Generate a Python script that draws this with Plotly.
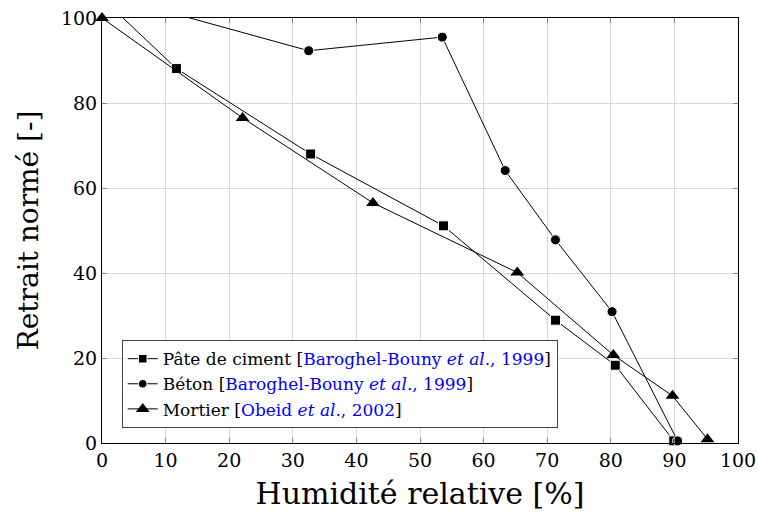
import plotly.graph_objects as go

# Pâte de ciment [Baroghel-Bouny et al., 1999]
pate_x = [0, 11.7, 32.8, 53.7, 71.3, 80.7, 89.9]
pate_y = [104.7, 88.1, 68.0, 51.1, 28.9, 18.3, 0.5]

# Béton [Baroghel-Bouny et al., 1999]
beton_x = [0, 32.5, 53.5, 63.4, 71.3, 80.2, 90.5]
beton_y = [105.7, 92.3, 95.5, 64.1, 47.8, 30.9, 0.5]

# Mortier [Obeid et al., 2002]
mortier_x = [0, 22.1, 42.6, 65.3, 80.4, 89.7, 95.2]
mortier_y = [100, 76.5, 56.5, 40.1, 20.7, 11.1, 0.9]

x_ticks = list(range(0, 101, 10))
y_ticks = list(range(0, 101, 20))

BLUE = '#0000ff'
SERIF = 'DejaVu Serif'


def cite(label, ref, year):
    return (f"{label} [<span style='color:{BLUE}'>{ref} <i>et al.</i>, {year}</span>]")


def sizes(ys, s):
    # hide markers that fall outside the plotted range
    return [s if y <= 100 else 0 for y in ys]


fig = go.Figure()
fig.add_trace(go.Scatter(
    x=pate_x, y=pate_y,
    name=cite('Pâte de ciment', 'Baroghel-Bouny', 1999),
    mode='lines+markers',
    line=dict(color='black', width=1),
    marker=dict(symbol='square', size=sizes(pate_y, 10), color='black', opacity=1),
    cliponaxis=False
))
fig.add_trace(go.Scatter(
    x=beton_x, y=beton_y,
    name=cite('Béton', 'Baroghel-Bouny', 1999),
    mode='lines+markers',
    line=dict(color='black', width=1),
    marker=dict(symbol='circle', size=sizes(beton_y, 10), color='black', opacity=1),
    cliponaxis=False
))
fig.add_trace(go.Scatter(
    x=mortier_x, y=mortier_y,
    name=cite('Mortier', 'Obeid', 2002),
    mode='lines+markers',
    line=dict(color='black', width=1),
    marker=dict(symbol='triangle-up', size=12, color='black', opacity=1),
    cliponaxis=False
))

axis_style = dict(
    showgrid=True,
    gridcolor='#d9d9d9',
    gridwidth=1,
    zeroline=False,
    showline=True,
    linecolor='black',
    linewidth=1,
    mirror='ticks',
    ticks='inside',
    ticklen=5,
    tickcolor='#888888',
    tickfont=dict(family=SERIF, size=19, color='black'),
    automargin=False,
)

fig.update_xaxes(
    range=[0, 100],
    tickvals=x_ticks,
    title=dict(text='Humidité relative [%]', font=dict(family=SERIF, size=30, color='black'), standoff=13),
    **axis_style
)
fig.update_yaxes(
    range=[0, 100],
    tickvals=y_ticks,
    title=dict(text='Retrait normé [-]', font=dict(family=SERIF, size=28, color='black'), standoff=14),
    **axis_style
)

fig.update_layout(
    width=758,
    height=514,
    margin=dict(l=102, r=20, t=18, b=71, autoexpand=False),
    plot_bgcolor='white',
    paper_bgcolor='white',
    font=dict(family=SERIF, color='black'),
    legend=dict(
        x=0.031, y=0.035,
        xanchor='left', yanchor='bottom',
        bgcolor='white',
        bordercolor='#444444',
        borderwidth=1,
        font=dict(family=SERIF, size=17, color='black'),
        tracegroupgap=0,
        itemwidth=30,
    ),
)

fig.write_html("out.html", config={'displayModeBar': False},
               post_script="document.body.style.margin='0';")
